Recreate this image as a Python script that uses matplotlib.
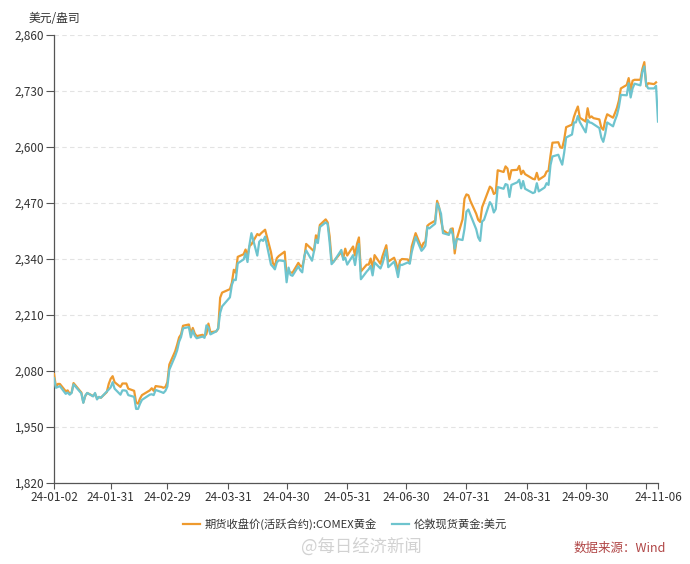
import matplotlib
matplotlib.use("Agg")
import matplotlib.pyplot as plt
import numpy as np
import pandas as pd

plt.rcParams['font.family'] = ['Noto Sans CJK SC', 'DejaVu Sans']

dates = [
    "2024-01-02", "2024-01-03", "2024-01-04", "2024-01-05", "2024-01-08", "2024-01-09", "2024-01-10",
    "2024-01-11", "2024-01-12", "2024-01-16", "2024-01-17", "2024-01-18", "2024-01-19", "2024-01-22",
    "2024-01-23", "2024-01-24", "2024-01-25", "2024-01-26", "2024-01-29", "2024-01-30", "2024-01-31",
    "2024-02-01", "2024-02-02", "2024-02-05", "2024-02-06", "2024-02-07", "2024-02-08", "2024-02-09",
    "2024-02-12", "2024-02-13", "2024-02-14", "2024-02-15", "2024-02-16", "2024-02-20", "2024-02-21",
    "2024-02-22", "2024-02-23", "2024-02-26", "2024-02-27", "2024-02-28", "2024-02-29",
    "2024-03-01", "2024-03-04", "2024-03-05", "2024-03-06", "2024-03-07", "2024-03-08", "2024-03-11",
    "2024-03-12", "2024-03-13", "2024-03-14", "2024-03-15", "2024-03-18", "2024-03-19", "2024-03-20",
    "2024-03-21", "2024-03-22", "2024-03-25", "2024-03-26", "2024-03-27", "2024-03-28",
    "2024-04-01", "2024-04-02", "2024-04-03", "2024-04-04", "2024-04-05", "2024-04-08", "2024-04-09",
    "2024-04-10", "2024-04-11", "2024-04-12", "2024-04-15", "2024-04-16", "2024-04-17", "2024-04-18",
    "2024-04-19", "2024-04-22", "2024-04-23", "2024-04-24", "2024-04-25", "2024-04-26", "2024-04-29",
    "2024-04-30",
    "2024-05-01", "2024-05-02", "2024-05-03", "2024-05-06", "2024-05-07", "2024-05-08", "2024-05-09",
    "2024-05-10", "2024-05-13", "2024-05-14", "2024-05-15", "2024-05-16", "2024-05-17", "2024-05-20",
    "2024-05-21", "2024-05-22", "2024-05-23", "2024-05-24", "2024-05-28", "2024-05-29", "2024-05-30",
    "2024-05-31",
    "2024-06-03", "2024-06-04", "2024-06-05", "2024-06-06", "2024-06-07", "2024-06-10", "2024-06-11",
    "2024-06-12", "2024-06-13", "2024-06-14", "2024-06-17", "2024-06-18", "2024-06-20", "2024-06-21",
    "2024-06-24", "2024-06-25", "2024-06-26", "2024-06-27", "2024-06-28",
    "2024-07-01", "2024-07-02", "2024-07-03", "2024-07-05", "2024-07-08", "2024-07-09", "2024-07-10",
    "2024-07-11", "2024-07-12", "2024-07-15", "2024-07-16", "2024-07-17", "2024-07-18", "2024-07-19",
    "2024-07-22", "2024-07-23", "2024-07-24", "2024-07-25", "2024-07-26", "2024-07-29", "2024-07-30",
    "2024-07-31",
    "2024-08-01", "2024-08-02", "2024-08-05", "2024-08-06", "2024-08-07", "2024-08-08", "2024-08-09",
    "2024-08-12", "2024-08-13", "2024-08-14", "2024-08-15", "2024-08-16", "2024-08-19", "2024-08-20",
    "2024-08-21", "2024-08-22", "2024-08-23", "2024-08-26", "2024-08-27", "2024-08-28", "2024-08-29",
    "2024-08-30",
    "2024-09-03", "2024-09-04", "2024-09-05", "2024-09-06", "2024-09-09", "2024-09-10", "2024-09-11",
    "2024-09-12", "2024-09-13", "2024-09-16", "2024-09-17", "2024-09-18", "2024-09-19", "2024-09-20",
    "2024-09-23", "2024-09-24", "2024-09-25", "2024-09-26", "2024-09-27", "2024-09-30",
    "2024-10-01", "2024-10-02", "2024-10-03", "2024-10-04", "2024-10-07", "2024-10-08", "2024-10-09",
    "2024-10-10", "2024-10-11", "2024-10-14", "2024-10-15", "2024-10-16", "2024-10-17", "2024-10-18",
    "2024-10-21", "2024-10-22", "2024-10-23", "2024-10-24", "2024-10-25", "2024-10-28", "2024-10-29",
    "2024-10-30", "2024-10-31",
    "2024-11-01", "2024-11-04", "2024-11-05", "2024-11-06",
]

comex_futures = [
    2073, 2043, 2050, 2050, 2033, 2035, 2027,
    2030, 2052, 2030, 2007, 2022, 2029, 2022,
    2027, 2017, 2019, 2018, 2031, 2050, 2062,
    2068, 2054, 2043, 2051, 2051, 2051, 2039,
    2034, 2007, 2004, 2016, 2024, 2035, 2040,
    2034, 2045, 2043, 2041, 2043, 2054,
    2095, 2126, 2141, 2158, 2165, 2185, 2188,
    2166, 2180, 2167, 2161, 2164, 2160, 2166,
    2190, 2170, 2172, 2178, 2250, 2262,
    2270, 2285, 2315, 2308, 2345, 2351, 2362,
    2348, 2370, 2374, 2398, 2395, 2400, 2404,
    2408, 2356, 2330, 2324, 2342, 2347, 2357,
    2302,
    2311, 2309, 2308, 2331, 2324, 2322, 2340,
    2375, 2362, 2358, 2395, 2385, 2419, 2432,
    2425, 2393, 2337, 2334, 2356, 2342, 2364,
    2348,
    2369, 2348, 2375, 2390, 2311, 2327, 2327,
    2341, 2318, 2349, 2329, 2346, 2372, 2334,
    2343, 2331, 2313, 2336, 2340,
    2339, 2331, 2369, 2400, 2366, 2377, 2380,
    2417, 2421, 2429, 2475, 2460, 2430, 2407,
    2397, 2410, 2411, 2353, 2386, 2432, 2480,
    2490,
    2488, 2475, 2445, 2431, 2426, 2460, 2472,
    2508, 2504, 2491, 2494, 2546, 2542, 2555,
    2550, 2525, 2546, 2547, 2556, 2537, 2545,
    2537,
    2526, 2525, 2540, 2524, 2533, 2543, 2545,
    2580, 2610, 2611, 2599, 2598, 2617, 2646,
    2652, 2670, 2683, 2694, 2668, 2659,
    2690, 2668, 2671, 2667, 2664, 2645, 2640,
    2662, 2676, 2668, 2679, 2691, 2708, 2736,
    2744, 2760, 2732, 2754, 2756, 2756, 2781,
    2797, 2741,
    2748, 2746, 2750, np.nan,
]

london_spot = [
    2063, 2041, 2043, 2045, 2027, 2030, 2025,
    2029, 2049, 2028, 2006, 2023, 2029, 2021,
    2029, 2014, 2020, 2018, 2032, 2037, 2042,
    2054, 2039, 2025, 2035, 2035, 2034, 2024,
    2020, 1992, 1992, 2004, 2013, 2025, 2026,
    2024, 2036, 2031, 2029, 2034, 2044,
    2083, 2115, 2128, 2148, 2159, 2179, 2182,
    2158, 2174, 2162, 2156, 2160, 2157, 2186,
    2181, 2165, 2172, 2179, 2215, 2230,
    2251, 2280, 2292, 2291, 2330, 2339, 2353,
    2333, 2373, 2400, 2348, 2380, 2385, 2382,
    2392, 2327, 2322, 2316, 2332, 2337, 2335,
    2286,
    2320, 2303, 2301, 2323, 2314, 2309, 2346,
    2360, 2336, 2358, 2385, 2377, 2414, 2425,
    2421, 2379, 2328, 2333, 2361, 2338, 2343,
    2327,
    2349, 2326, 2355, 2375, 2293, 2311, 2316,
    2324, 2302, 2332, 2318, 2329, 2361, 2321,
    2334, 2319, 2298, 2327, 2326,
    2332, 2329, 2356, 2391, 2359, 2364, 2371,
    2414, 2411, 2422, 2469, 2459, 2445, 2400,
    2396, 2409, 2397, 2364, 2387, 2384, 2410,
    2450,
    2455, 2443, 2409, 2390, 2382, 2427, 2431,
    2472, 2465, 2448, 2456, 2507, 2503, 2514,
    2512, 2484, 2512, 2518, 2524, 2504, 2521,
    2503,
    2493, 2495, 2516, 2497, 2506, 2516, 2512,
    2558, 2578, 2582, 2570, 2559, 2587, 2622,
    2629, 2657, 2657, 2672, 2658, 2634,
    2663, 2657, 2656, 2653, 2644, 2622, 2612,
    2631, 2657, 2648, 2662, 2674, 2693, 2721,
    2720, 2748, 2715, 2736, 2747, 2743, 2774,
    2787, 2744,
    2736, 2736, 2742, 2659,
]

tick_dates = ["2024-01-02", "2024-01-31", "2024-02-29", "2024-03-31", "2024-04-30",
              "2024-05-31", "2024-06-30", "2024-07-31", "2024-08-31", "2024-09-30",
              "2024-10-31", "2024-11-06"]
tick_labels = ["24-01-02", "24-01-31", "24-02-29", "24-03-31", "24-04-30",
               "24-05-31", "24-06-30", "24-07-31", "24-08-31", "24-09-30",
               "", "24-11-06"]
y_ticks = [1820, 1950, 2080, 2210, 2340, 2470, 2600, 2730, 2860]

series_names = ["期货收盘价(活跃合约):COMEX黄金", "伦敦现货黄金:美元"]
colors = ["#EE9A2E", "#6EC4CE"]

x = pd.to_datetime(dates)

fig = plt.figure(figsize=(6.9, 5.64), dpi=100)
ax = fig.add_axes([54/690, 1 - 483/564, (658 - 54)/690, (483 - 35)/564])

ax.plot(x, comex_futures, color=colors[0], lw=1.6, label=series_names[0], zorder=3)
ax.plot(x, london_spot, color=colors[1], lw=1.6, label=series_names[1], zorder=3)

ax.set_xlim(pd.Timestamp("2024-01-02"), pd.Timestamp("2024-11-06"))
ax.set_ylim(y_ticks[0], y_ticks[-1])
ax.set_yticks(y_ticks)
ax.set_yticklabels([f"{v:,}" for v in y_ticks])
ax.set_xticks(pd.to_datetime(tick_dates))
ax.set_xticklabels(tick_labels)

ax.grid(axis='y', color='#e3e3e3', lw=0.8, ls=(0, (4, 3)))
ax.grid(axis='x', visible=False)
for s in ['top', 'right']:
    ax.spines[s].set_visible(False)
for s in ['left', 'bottom']:
    ax.spines[s].set_color('#555555')
    ax.spines[s].set_linewidth(0.9)

ax.tick_params(axis='both', colors='#555555', labelcolor='#333333', labelsize=8.5,
               length=4, width=0.8)
ax.tick_params(axis='y', length=6, pad=1)
ax.tick_params(axis='x', pad=2)

fig.text(29/690, 1 - 19/564, "美元/盎司", fontsize=8.5, color='#333333', va='center', ha='left')

leg = fig.legend(loc='center', bbox_to_anchor=(345/690, 1 - 524/564), ncol=2, frameon=False,
                 fontsize=8.1, handlelength=1.5, columnspacing=1.4, handletextpad=0.4)
for t in leg.get_texts():
    t.set_color('#333333')

fig.text(361/690, 1 - 548/564, "@每日经济新闻", fontsize=12.5, color='#d2d2d2', ha='center', va='center')
fig.text(620/690, 1 - 548/564, "数据来源：Wind", fontsize=9, color='#b04545', ha='center', va='center')

fig.savefig("out.png", dpi=100)
